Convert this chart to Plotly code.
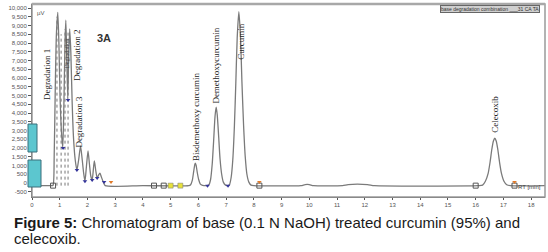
import plotly.graph_objects as go

# ---------------- data ----------------
BASE = -150
rt_min = [
    0.00, 0.70, 0.76, 0.80, 0.84, 0.88, 0.93, 0.97, 1.01, 1.06, 1.11, 1.15, 1.19, 1.22, 1.25,
    1.29, 1.32, 1.36, 1.40, 1.45, 1.50, 1.56, 1.62, 1.68, 1.75, 1.80, 1.86, 1.91, 1.96, 2.02,
    2.07, 2.12, 2.17, 2.22, 2.25, 2.30, 2.35, 2.40, 2.45, 2.50, 2.56, 2.64, 4.00,
    5.65, 5.72, 5.78, 5.83, 5.87, 5.89, 5.92, 5.96, 6.01, 6.07, 6.15,
    6.30, 6.38, 6.44, 6.50, 6.55, 6.60, 6.64, 6.68, 6.73, 6.78, 6.84, 6.90, 6.98,
    7.05, 7.12, 7.18, 7.24, 7.30, 7.35, 7.40, 7.46, 7.52, 7.57, 7.63, 7.69, 7.75, 7.82, 7.90,
    8.00, 9.70, 9.85, 10.00, 10.15, 11.20, 11.40, 12.10, 12.35,
    16.10, 16.25, 16.35, 16.45, 16.52, 16.58, 16.64, 16.69, 16.74, 16.80, 16.86, 16.93, 17.02,
    17.12, 17.25, 18.50,
]
signal_uv = [
    -150, -150, -130, 1500, 5500, 8500, 9750, 8000, 5000, 3000, 2000, 4500, 8000, 9300, 7500,
    4800, 7000, 8800, 7500, 4500, 2500, 1300, 740, 1300, 2100, 1500, 600, 100, 900, 1830,
    1100, 400, 170, 900, 1260, 700, 290, 450, 570, 350, 100, -150, -150,
    -150, -100, 150, 650, 1050, 1140, 1000, 600, 200, -60, -130,
    -150, -100, 200, 1100, 2400, 3800, 4340, 3900, 2700, 1400, 500, 50, -120,
    -150, -100, 300, 1300, 3300, 5700, 8300, 9790, 8300, 5800, 3300, 1500, 500, 50, -120,
    -150, -150, -90, -90, -150, -150, -90, -90, -150,
    -150, -120, 100, 550, 1200, 1900, 2400, 2570, 2400, 1900, 1200, 550, 100,
    -100, -150, -150,
]

peak_names = ["Degradation 1", "Degradation", "Degradation 2", "Degradation 3",
              "Bisdemethoxy curcumin", "Demethoxycurcumin", "Curcumin", "Celecoxib"]
label_rt = [0.52, 1.26, 1.64, 1.69, 5.90, 6.63, 7.55, 16.70]
label_uv = [6200, 7400, 7300, 3500, 3800, 6700, 8100, 3900]
label_size = [9, 6, 9, 9, 9, 9, 9, 9]

drop_rt = [0.90, 1.05, 1.19, 1.30]
drop_top = [9500, 8500, 8800, 8600]

box_rt = [0.76, 4.40, 4.75, 8.20, 16.00, 17.40]
box_uv = [-150, -150, -150, -150, -150, -150]
yel_rt = [5.00, 5.35]
yel_uv = [-150, -150]
tri_rt = [1.12, 1.30, 1.62, 1.91, 2.17, 2.35, 2.60, 6.33, 7.07]
tri_uv = [2000, 4750, 740, 100, 170, 290, 60, -150, -150]
org_rt = [2.85, 8.20, 17.40]
org_uv = [60, 60, 60]

yticks = list(range(-500, 10001, 500))
ytick_text = [f"{v:,}" for v in yticks]
xticks = list(range(0, 19))

# ---------------- layout helpers ----------------
W, H = 548, 252
L, R, T, B = 32, 3, 4, 55
PW, PH = W - L - R, H - T - B


def pxx(px):
    return (px - L) / PW


def pxy(py):
    return (H - B - py) / PH


fig = go.Figure()

# drop lines (dotted)
dx, dy = [], []
for t, top in zip(drop_rt, drop_top):
    dx += [t, t, None]
    dy += [BASE, top, None]
fig.add_trace(go.Scatter(x=dx, y=dy, mode="lines",
                         line=dict(color="#777", width=1, dash="dot"),
                         hoverinfo="skip", showlegend=False))

fig.add_trace(go.Scatter(x=rt_min, y=signal_uv, mode="lines",
                         line=dict(color="#7a7a7a", width=1.3, shape="spline", smoothing=0.6),
                         showlegend=False))

fig.add_trace(go.Scatter(x=box_rt, y=box_uv, mode="markers",
                         marker=dict(symbol="square-open", size=5, color="#555",
                                     line=dict(width=1)), showlegend=False))
fig.add_trace(go.Scatter(x=yel_rt, y=yel_uv, mode="markers",
                         marker=dict(symbol="square", size=5, color="#e8e23a",
                                     line=dict(width=0.5, color="#777")), showlegend=False))
fig.add_trace(go.Scatter(x=tri_rt, y=tri_uv, mode="markers",
                         marker=dict(symbol="triangle-down", size=4, color="#34349a"),
                         showlegend=False))
fig.add_trace(go.Scatter(x=org_rt, y=org_uv, mode="markers",
                         marker=dict(symbol="triangle-down", size=4, color="#e07a2a"),
                         showlegend=False))

annotations = []
for name, t, v, s in zip(peak_names, label_rt, label_uv, label_size):
    annotations.append(dict(x=t, y=v, xref="x", yref="y", text=name, showarrow=False,
                            textangle=-90,
                            font=dict(family="Liberation Serif", size=s,
                                      color="#222" if s > 6 else "#444")))

annotations += [
    dict(x=pxx(95), y=pxy(30), xref="paper", yref="paper", text="<b>3A</b>",
         showarrow=False, xanchor="left",
         font=dict(family="Liberation Sans", size=11, color="#333")),
    dict(x=pxx(35), y=pxy(8), xref="paper", yref="paper", text="µV",
         showarrow=False, xanchor="left",
         font=dict(family="Liberation Sans", size=6, color="#555")),
    dict(x=pxx(543), y=pxy(192), xref="paper", yref="paper", text="RT [min]",
         showarrow=False, xanchor="right",
         font=dict(family="Liberation Sans", size=6, color="#444")),
    dict(x=pxx(540), y=pxy(5), xref="paper", yref="paper",
         text="base degradation combination ___31 CA TA",
         showarrow=False, xanchor="right", bgcolor="#cfcfcf", bordercolor="#666",
         borderwidth=1, borderpad=0,
         font=dict(family="Liberation Sans", size=5, color="#333")),
    dict(x=pxx(13), y=pxy(222), xref="paper", yref="paper",
         text="<b>Figure 5:</b> Chromatogram of base (0.1 N NaOH) treated curcumin (95%) and",
         showarrow=False, xanchor="left", yanchor="middle", borderpad=0,
         font=dict(family="Liberation Sans", size=15, color="#1a1a1a")),
    dict(x=pxx(13), y=pxy(239), xref="paper", yref="paper", text="celecoxib.",
         showarrow=False, xanchor="left", yanchor="middle", borderpad=0,
         font=dict(family="Liberation Sans", size=15, color="#1a1a1a")),
]

shapes = [
    dict(type="rect", xref="paper", yref="paper", x0=0, x1=1, y0=0, y1=1,
         line=dict(color="#9a9a9a", width=1.5)),
    dict(type="line", xref="paper", yref="paper", x0=0, x1=1, y0=1, y1=1,
         line=dict(color="#a8a8a8", width=2.5)),
    dict(type="rect", xref="paper", yref="paper", x0=pxx(28), x1=pxx(37),
         y0=pxy(152), y1=pxy(124), fillcolor="#5cc6cf", line=dict(color="#3a6f7a", width=1)),
    dict(type="rect", xref="paper", yref="paper", x0=pxx(28), x1=pxx(41),
         y0=pxy(187), y1=pxy(160), fillcolor="#5cc6cf", line=dict(color="#3a6f7a", width=1)),
]

fig.update_layout(
    width=W, height=H,
    margin=dict(l=L, r=R, t=T, b=B, pad=0),
    paper_bgcolor="white", plot_bgcolor="white",
    annotations=annotations, shapes=shapes,
    xaxis=dict(range=[0, 18.5], tickvals=xticks, showgrid=False, zeroline=False,
               showline=True, linecolor="#555", linewidth=1, ticks="outside", ticklen=2,
               tickcolor="#555", tickfont=dict(family="Liberation Sans", size=6, color="#555")),
    yaxis=dict(range=[-800, 10230], tickvals=yticks, ticktext=ytick_text, showgrid=False,
               zeroline=False, showline=True, linecolor="#555", linewidth=1,
               ticks="outside", ticklen=3, tickcolor="#555",
               tickfont=dict(family="Liberation Sans", size=6, color="#555")),
)

fig.write_html("out.html")
